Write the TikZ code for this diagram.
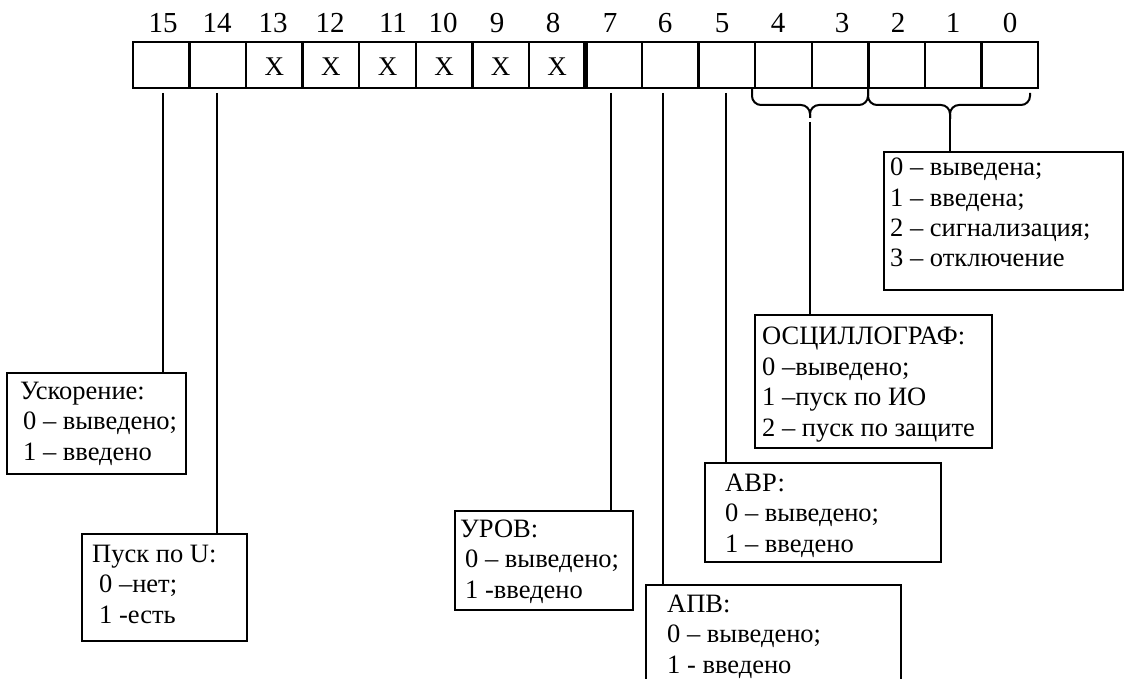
\documentclass[tikz,border=0pt]{standalone}
\usepackage{fontspec}
\setmainfont{Liberation Serif}
\begin{document}
\begin{tikzpicture}[x=1pt,y=-1pt,
  font=\fontsize{26.5}{30.5}\selectfont,
  cell/.style={draw, minimum width=56.56pt, minimum height=46pt, inner sep=0pt, outer sep=0pt, line width=2.4pt},
  box/.style={draw, anchor=north west, inner sep=0pt, outer sep=0pt, line width=2pt},
  txt/.style={anchor=base west, align=left, inner sep=0pt},
  num/.style={anchor=base, inner sep=0pt, font=\fontsize{29}{30}\selectfont},
  xmark/.style={anchor=base, inner sep=0pt, font=\fontsize{27}{30}\selectfont},
  conn/.style={line width=2pt},
  brace/.style={line width=2pt, rounded corners=9pt}]
\useasboundingbox (0,0) rectangle (1125,679);
\clip (0,0) rectangle (1125,679);
% register cells
\foreach \k in {0,...,15}{
  \pgfmathtruncatemacro\b{15-\k}
  \node[cell] (c\b) at ({133+56.5625*(\k+0.5)},65) {};
}
\draw[line width=4.5pt] (c8.north east) -- (c8.south east);
% bit numbers
\foreach \b/\x in {15/163,14/217,13/273,12/330,11/393,10/443,9/497,8/553,7/610,6/665,5/722,4/778,3/842,2/898,1/953,0/1010}
  \node[num] (n\b) at (\x,33) {\b};
% X marks
\foreach \b in {13,12,11,10,9,8}
  \node[xmark] (x\b) at ([yshift=-11pt]c\b.center) {X};
% boxes
\node[box, minimum width=179pt, minimum height=101pt] (usk) at (7,373) {};
\node[box, minimum width=165pt, minimum height=107pt] (pusk) at (82,534) {};
\node[box, minimum width=178pt, minimum height=99pt] (urov) at (455,511) {};
\node[box, minimum width=255pt, minimum height=130pt] (apv) at (646,585) {};
\node[box, minimum width=236pt, minimum height=99pt] (avr) at (705,463) {};
\node[box, minimum width=237pt, minimum height=133pt] (osc) at (755,315) {};
\node[box, minimum width=239pt, minimum height=138pt] (prot) at (884,152) {};
% texts (anchored at the baseline of the last line)
\node[txt] (uskT) at (20,460) {Ускорение:\\\hspace*{3pt}0 – выведено;\\\hspace*{3pt}1 – введено};
\node[txt] (puskT) at (92,623) {Пуск по U:\\\hspace*{7pt}0 –нет;\\\hspace*{7pt}1 -есть};
\node[txt] (urovT) at (460,598) {УРОВ:\\\hspace*{5pt}0 – выведено;\\\hspace*{5pt}1 -введено};
\node[txt] (apvT) at (667,673) {АПВ:\\0 – выведено;\\1 - введено};
\node[txt] (avrT) at (725,552) {АВР:\\0 – выведено;\\1 – введено};
\node[txt] (oscT) at (762,436) {ОСЦИЛЛОГРАФ:\\0 –выведено;\\1 –пуск по ИО\\2 – пуск по защите};
\node[txt] (protT) at (890,267) {0 – выведена;\\1 – введена;\\2 – сигнализация;\\3 – отключение};
% connectors from single bits
\coordinate (t15) at (163,93);
\coordinate (t14) at (217,93);
\coordinate (t7) at (611,93);
\coordinate (t6) at (663,93);
\coordinate (t5) at (726,93);
\draw[conn] (t15) -- (t15 |- usk.north);
\draw[conn] (t14) -- (t14 |- pusk.north);
\draw[conn] (t7) -- (t7 |- urov.north);
\draw[conn] (t6) -- (t6 |- apv.north);
\draw[conn] (t5) -- (t5 |- avr.north);
% braces
\draw[brace] (752,88) -- (752,105) -- (810,105) -- (810,118);
\draw[brace] (868,88) -- (868,105) -- (810,105) -- (810,118);
\draw[brace] (868,88) -- (868,105) -- (950,105) -- (950,119);
\draw[brace] (1030,93) -- (1030,105) -- (950,105) -- (950,119);
\coordinate (b43) at (810,118);
\coordinate (b20) at (950,118);
\draw[conn] ([yshift=-4pt]b43) -- (b43 |- osc.north);
\draw[conn] (b20) -- (b20 |- prot.north);
\end{tikzpicture}
\end{document}
